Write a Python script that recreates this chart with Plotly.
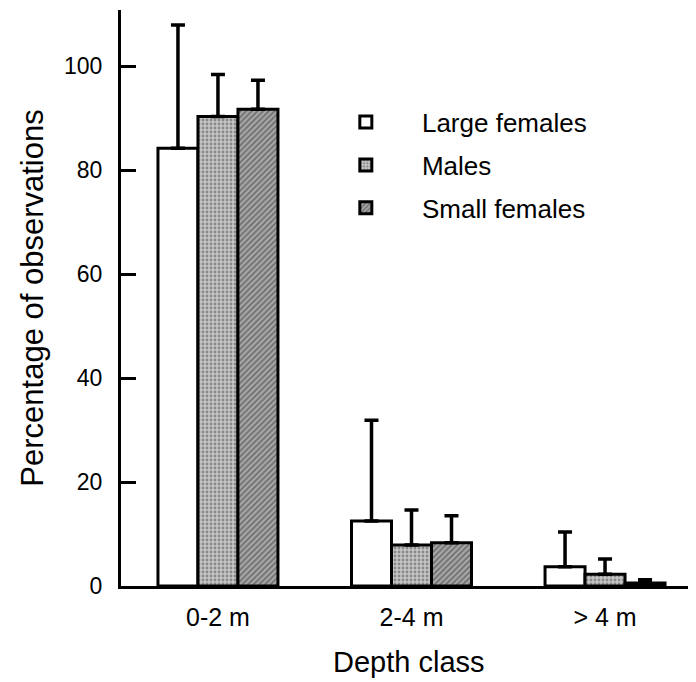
import plotly.graph_objects as go

categories = ["0-2 m", "2-4 m", "> 4 m"]
group_pos = [0, 1, 2]

series_names = ["Large females", "Males", "Small females"]
large_females = [84.2, 12.5, 3.7]
large_females_err = [23.7, 19.4, 6.7]
males = [90.3, 7.9, 2.25]
males_err = [8.1, 6.7, 2.95]
small_females = [91.7, 8.3, 0.6]
small_females_err = [5.6, 5.2, 0.6]

FONT = "Liberation Sans, Arial, Helvetica, sans-serif"

styles = [
    dict(color="white", pattern=None),
    dict(color="#bdbdbd", pattern=dict(shape=".", fgcolor="#4a4a4a", bgcolor="#c6c6c6", size=4, solidity=0.4)),
    dict(color="#9a9a9a", pattern=dict(shape="/", fgcolor="#333333", bgcolor="#a8a8a8", size=4, solidity=0.45)),
]

fig = go.Figure()
for i, (name, vals, errs) in enumerate(zip(series_names,
                                            [large_females, males, small_females],
                                            [large_females_err, males_err, small_females_err])):
    marker = dict(color=styles[i]["color"], line=dict(color="black", width=3))
    if styles[i]["pattern"]:
        marker["pattern"] = styles[i]["pattern"]
    fig.add_trace(go.Bar(
        x=group_pos, y=vals, name="\u00a0" * 5 + name,
        marker=marker, legendgroup=name,
        error_y=dict(type="data", symmetric=False, array=errs, arrayminus=[0, 0, 0],
                     color="black", thickness=3.5, width=7),
    ))

fig.update_layout(
    width=688, height=674,
    margin=dict(l=113, r=0, t=2, b=96),
    paper_bgcolor="white", plot_bgcolor="white",
    barmode="group", bargap=0.38, bargroupgap=0,
    font=dict(family=FONT, color="black"),
    showlegend=True,
    legend=dict(x=0.391, y=0.846, xanchor="left", yanchor="top",
                font=dict(size=26, family=FONT), tracegroupgap=6,
                bgcolor="rgba(0,0,0,0)"),
    xaxis=dict(range=[-0.501, 2.47], tickvals=group_pos, ticktext=categories,
               showline=True, linecolor="black", linewidth=3, showgrid=False,
               zeroline=False, ticks="", tickfont=dict(size=25, family=FONT),
               ticklabelstandoff=7),
    yaxis=dict(range=[0, 110.8], tickvals=[0, 20, 40, 60, 80, 100],
               showline=True, linecolor="black", linewidth=3, showgrid=False,
               zeroline=False, ticks="inside", ticklen=15, tickwidth=3, tickcolor="black",
               tickfont=dict(size=23, family=FONT), ticklabelstandoff=11,
               title=dict(text="Percentage of observations", font=dict(size=31, family=FONT),
                          standoff=12)),
    annotations=[dict(text="Depth class", xref="paper", yref="paper",
                      x=0.5, y=-0.132, xanchor="center", yanchor="middle",
                      showarrow=False, font=dict(size=29, family=FONT))],
)

fig.write_html("out.html")
